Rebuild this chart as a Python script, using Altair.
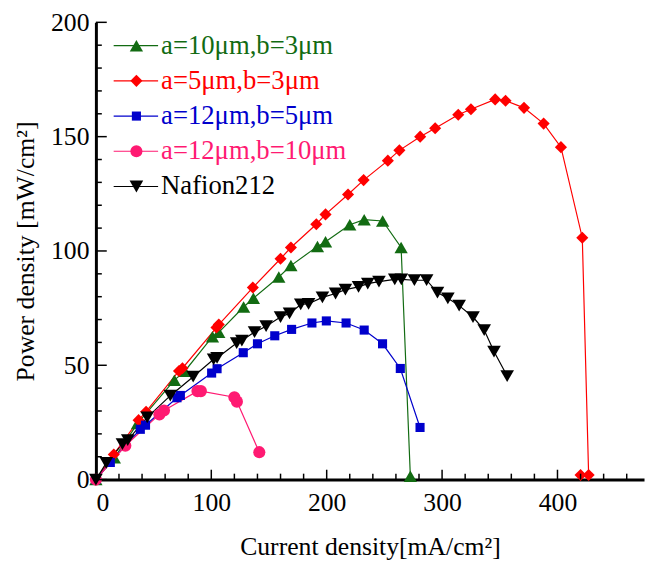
import altair as alt
import pandas as pd

# ---------------- data ----------------
labels = ["a=10μm,b=3μm", "a=5μm,b=3μm", "a=12μm,b=5μm", "a=12μm,b=10μm", "Nafion212"]

g_x = [0, 16, 36, 68, 77, 101, 106.5, 128, 136.5, 158.5, 169, 192, 199, 220, 232.5, 248.5, 264.5, 272.5]
g_y = [0, 9.5, 24.5, 43.5, 47.4, 62.5, 64.4, 75.5, 79.3, 88.6, 93.6, 102, 104, 111.5, 113.7, 113.1, 101.5, 1.5]

r_x = [0, 15.5, 37, 43.5, 72, 75, 104.5, 106.5, 136, 160, 169, 191, 199, 218.5, 232, 253, 263, 281,
       294, 314, 325, 346, 355, 371, 388, 403, 421.5, 427, 420]
r_y = [0, 11, 26, 29.7, 47.5, 48.7, 66.5, 67.8, 84, 96.6, 101.5, 111.7, 116, 124.7, 131, 139.5, 144, 150,
       153.7, 159.6, 162, 166.3, 165.7, 162.6, 155.7, 145.4, 105.8, 2, 2]

b_x = [0, 12.5, 38.5, 43, 70.3, 73.2, 100.3, 105, 127.7, 140, 155, 169.6, 187.2, 199.7, 216.8, 232.5,
       248.4, 263.8, 280.9]
b_y = [0, 7.5, 22, 23.8, 35.8, 36.8, 46.6, 48.5, 55.5, 59.4, 62.9, 65.7, 68.5, 69.4, 68.5, 65.4,
       59.4, 48.6, 22.8]

p_x = [0, 25.5, 55, 59, 88, 91, 120, 122.2, 141.6]
p_y = [0, 14.8, 28.5, 30.2, 38.7, 38.7, 36, 34.1, 12]

k_x = [0, 9, 23, 27.6, 44.5, 64.5, 84.3, 102, 105, 122, 126.5, 137.5, 147.5, 160, 167.8, 177.5, 184.3,
       196.3, 207.7, 216.2, 227.6, 235.6, 245.3, 259, 264.7, 276, 286.6, 296, 305, 314.8, 326.8, 336.5,
       345, 356.4]
k_y = [0, 7.3, 15.5, 17.3, 27.2, 36.7, 45, 52.6, 53.2, 59.7, 60.8, 64.5, 67.1, 71.1, 72.7, 76.6, 76.9,
       79.7, 81.4, 83.1, 84.3, 85.7, 86.6, 87.6, 87.6, 87.2, 87.2, 81.8, 79.3, 76.1, 71.1, 65.4,
       56, 45.3]

x_ticks = [0, 100, 200, 300, 400]
y_ticks = [0, 50, 100, 150, 200]

# ---------------- styles ----------------
colors = ["#126b12", "#ff0000", "#0000cc", "#ff1a72", "#000000"]
shapes = ["triangle-up", "diamond", "square", "circle", "triangle-down"]
sizes = [180, 150, 85, 150, 190]
FONT = "'Liberation Serif', 'Times New Roman', serif"

series = [(g_x, g_y), (r_x, r_y), (b_x, b_y), (p_x, p_y), (k_x, k_y)]
rows = []
for lab, (xs_, ys_), sz in zip(labels, series, sizes):
    for i, (xv, yv) in enumerate(zip(xs_, ys_)):
        rows.append({"series": lab, "x": xv, "y": yv, "i": i, "sz": sz})
df = pd.DataFrame(rows)

# legend table (placed in data coordinates of the plot)
leg = pd.DataFrame({
    "series": labels,
    "y": [189.8 - 15.4 * k for k in range(len(labels))],
    "x0": 15.4, "x1": 53.9, "xm": 35.1, "xt": 56.5,
    "sz": sizes,
})

W, H = 555, 463
xs = alt.Scale(domain=[0, 475], nice=False, zero=False)
ys = alt.Scale(domain=[0, 200], nice=False, zero=False)
col = alt.Color("series:N", scale=alt.Scale(domain=labels, range=colors), legend=None)
shp = alt.Shape("series:N", scale=alt.Scale(domain=labels, range=shapes), legend=None)

X = alt.X("x:Q", scale=xs, axis=alt.Axis(
    values=x_ticks, title="Current density[mA/cm²]", grid=False, ticks=False, tickSize=0,
    domainColor="black", domainWidth=3, labelFont=FONT, labelFontSize=26, labelColor="black",
    labelPadding=10, titleFont=FONT, titleFontSize=26, titleFontWeight="normal", titleColor="black",
    titlePadding=19))
Y = alt.Y("y:Q", scale=ys, axis=alt.Axis(
    values=y_ticks, title="Power density [mW/cm²]", grid=False, ticks=False, tickSize=0,
    domainColor="black", domainWidth=3, labelFont=FONT, labelFontSize=26, labelColor="black",
    labelPadding=7, titleFont=FONT, titleFontSize=26, titleFontWeight="normal", titleColor="black",
    titlePadding=12))

lines = alt.Chart(df).mark_line(strokeWidth=1.2).encode(
    x=X, y=Y, color=col, detail="series:N", order="i:Q")
points = alt.Chart(df).mark_point(filled=True, opacity=1, strokeWidth=0).encode(
    x="x:Q", y="y:Q", color=col, shape=shp, size=alt.Size("sz:Q", scale=None))

# inward ticks
yt = pd.DataFrame({"v": list(range(0, 201, 10))})
yt["major"] = yt["v"] % 50 == 0
xt = pd.DataFrame({"v": list(range(0, 461, 20))})
xt["major"] = xt["v"] % 100 == 0

ytick_major = alt.Chart(yt).transform_filter("datum.major").mark_rule(color="black", strokeWidth=1.5).encode(
    y=alt.Y("v:Q", scale=ys), x=alt.value(0), x2=alt.value(11))
ytick_minor = alt.Chart(yt).transform_filter("!datum.major").mark_rule(color="black", strokeWidth=1.5).encode(
    y=alt.Y("v:Q", scale=ys), x=alt.value(0), x2=alt.value(6))
xtick_major = alt.Chart(xt).transform_filter("datum.major").mark_rule(color="black", strokeWidth=1.5).encode(
    x=alt.X("v:Q", scale=xs), y=alt.value(H), y2=alt.value(H - 10))
xtick_minor = alt.Chart(xt).transform_filter("!datum.major").mark_rule(color="black", strokeWidth=1.5).encode(
    x=alt.X("v:Q", scale=xs), y=alt.value(H), y2=alt.value(H - 6))

leg_lines = alt.Chart(leg).mark_rule(strokeWidth=1.2).encode(
    x=alt.X("x0:Q", scale=xs), x2="x1:Q", y=alt.Y("y:Q", scale=ys), color=col)
leg_pts = alt.Chart(leg).mark_point(filled=True, opacity=1, strokeWidth=0).encode(
    x=alt.X("xm:Q", scale=xs), y=alt.Y("y:Q", scale=ys), color=col, shape=shp,
    size=alt.Size("sz:Q", scale=None))
leg_txt = alt.Chart(leg).mark_text(align="left", baseline="middle", font=FONT, fontSize=27).encode(
    x=alt.X("xt:Q", scale=xs), y=alt.Y("y:Q", scale=ys), text="series:N", color=col)

chart = alt.layer(
    lines, points, ytick_major, ytick_minor, xtick_major, xtick_minor, leg_lines, leg_pts, leg_txt
).properties(
    width=W, height=H,
    autosize=alt.AutoSizeParams(type="none"),
    padding={"left": 89, "top": 11, "right": 2, "bottom": 86},
    background="white",
).configure_view(stroke=None)

chart.save("out.html", embed_options={"renderer": "svg", "actions": False})
